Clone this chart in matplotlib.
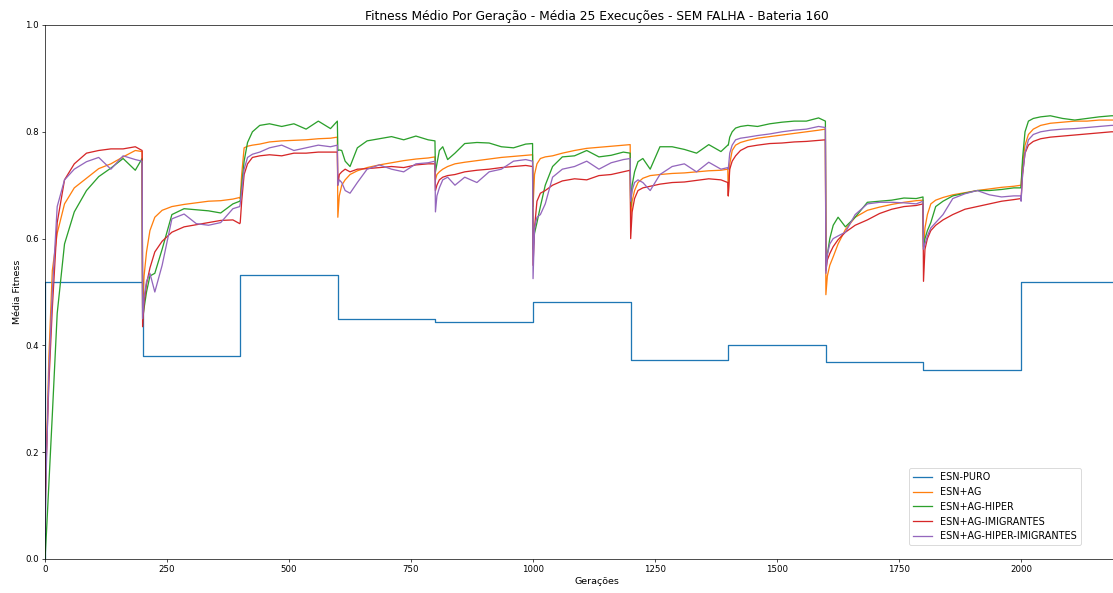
import matplotlib
matplotlib.use("Agg")
import matplotlib.pyplot as plt
import numpy as np

# generations sampled inside each 200-generation block
offsets = [0, 3, 8, 15, 25, 40, 60, 85, 110, 135, 160, 185, 199]
block = 200

labels = ["ESN-PURO", "ESN+AG", "ESN+AG-HIPER", "ESN+AG-IMIGRANTES", "ESN+AG-HIPER-IMIGRANTES"]

# ESN-PURO is flat inside every block
puro_start = 0.0
puro_levels = [0.518, 0.380, 0.532, 0.450, 0.443, 0.481, 0.372, 0.401, 0.369, 0.354, 0.519]

esn_ag = [
    [0.08, 0.20, 0.38, 0.54, 0.61, 0.665, 0.695, 0.713, 0.731, 0.740, 0.753, 0.765, 0.763],
    [0.47, 0.53, 0.575, 0.615, 0.64, 0.653, 0.66, 0.664, 0.667, 0.670, 0.671, 0.674, 0.677],
    [0.675, 0.72, 0.77, 0.773, 0.775, 0.777, 0.781, 0.783, 0.784, 0.785, 0.787, 0.788, 0.79],
    [0.64, 0.68, 0.70, 0.71, 0.72, 0.727, 0.733, 0.738, 0.742, 0.746, 0.749, 0.751, 0.753],
    [0.71, 0.72, 0.725, 0.73, 0.735, 0.74, 0.743, 0.746, 0.749, 0.752, 0.754, 0.756, 0.757],
    [0.66, 0.72, 0.74, 0.75, 0.753, 0.755, 0.76, 0.765, 0.769, 0.771, 0.773, 0.775, 0.776],
    [0.64, 0.67, 0.69, 0.705, 0.713, 0.718, 0.72, 0.722, 0.723, 0.725, 0.727, 0.728, 0.73],
    [0.68, 0.74, 0.765, 0.775, 0.78, 0.784, 0.788, 0.791, 0.794, 0.797, 0.80, 0.803, 0.805],
    [0.495, 0.53, 0.55, 0.566, 0.59, 0.617, 0.64, 0.653, 0.659, 0.664, 0.668, 0.671, 0.672],
    [0.58, 0.62, 0.645, 0.665, 0.672, 0.677, 0.682, 0.686, 0.69, 0.693, 0.696, 0.698, 0.70],
    [0.70, 0.74, 0.775, 0.795, 0.805, 0.812, 0.816, 0.818, 0.82, 0.82, 0.822, 0.822, 0.822],
]

esn_ag_hiper = [
    [0.0, 0.05, 0.14, 0.27, 0.46, 0.59, 0.65, 0.69, 0.716, 0.732, 0.75, 0.728, 0.75],
    [0.45, 0.47, 0.50, 0.53, 0.535, 0.58, 0.645, 0.656, 0.654, 0.652, 0.648, 0.665, 0.67],
    [0.67, 0.70, 0.745, 0.78, 0.80, 0.812, 0.815, 0.81, 0.815, 0.805, 0.82, 0.806, 0.82],
    [0.765, 0.766, 0.765, 0.745, 0.735, 0.77, 0.783, 0.787, 0.791, 0.785, 0.792, 0.785, 0.783],
    [0.725, 0.74, 0.765, 0.772, 0.748, 0.76, 0.778, 0.78, 0.779, 0.772, 0.77, 0.777, 0.778],
    [0.58, 0.61, 0.63, 0.66, 0.70, 0.735, 0.753, 0.755, 0.765, 0.753, 0.756, 0.762, 0.76],
    [0.66, 0.70, 0.725, 0.744, 0.75, 0.73, 0.772, 0.772, 0.767, 0.76, 0.776, 0.763, 0.775],
    [0.775, 0.79, 0.80, 0.807, 0.81, 0.812, 0.81, 0.815, 0.818, 0.82, 0.82, 0.826, 0.82],
    [0.55, 0.57, 0.60, 0.625, 0.64, 0.622, 0.64, 0.668, 0.67, 0.672, 0.676, 0.675, 0.678],
    [0.585, 0.60, 0.615, 0.63, 0.66, 0.67, 0.68, 0.685, 0.69, 0.69, 0.692, 0.695, 0.695],
    [0.70, 0.75, 0.80, 0.82, 0.825, 0.828, 0.83, 0.825, 0.822, 0.825, 0.828, 0.83, 0.83],
]

esn_ag_imig = [
    [0.10, 0.20, 0.33, 0.47, 0.63, 0.71, 0.74, 0.76, 0.765, 0.768, 0.768, 0.772, 0.765],
    [0.435, 0.48, 0.515, 0.545, 0.575, 0.595, 0.612, 0.622, 0.626, 0.63, 0.634, 0.635, 0.628],
    [0.63, 0.67, 0.72, 0.74, 0.752, 0.755, 0.757, 0.755, 0.76, 0.76, 0.762, 0.762, 0.762],
    [0.70, 0.72, 0.725, 0.73, 0.725, 0.73, 0.731, 0.733, 0.735, 0.733, 0.738, 0.74, 0.74],
    [0.69, 0.70, 0.71, 0.715, 0.718, 0.72, 0.725, 0.728, 0.73, 0.733, 0.735, 0.737, 0.735],
    [0.55, 0.62, 0.67, 0.685, 0.69, 0.70, 0.708, 0.712, 0.71, 0.718, 0.72, 0.725, 0.728],
    [0.60, 0.65, 0.675, 0.69, 0.695, 0.698, 0.702, 0.705, 0.706, 0.709, 0.712, 0.71, 0.705],
    [0.68, 0.73, 0.745, 0.755, 0.765, 0.772, 0.775, 0.778, 0.779, 0.781, 0.782, 0.784, 0.785],
    [0.54, 0.56, 0.572, 0.585, 0.598, 0.612, 0.625, 0.635, 0.647, 0.655, 0.66, 0.662, 0.665],
    [0.52, 0.58, 0.60, 0.615, 0.625, 0.635, 0.645, 0.655, 0.66, 0.665, 0.67, 0.673, 0.675],
    [0.675, 0.72, 0.76, 0.775, 0.782, 0.787, 0.79, 0.792, 0.794, 0.796, 0.798, 0.80, 0.80],
]

esn_ag_hiper_imig = [
    [0.05, 0.18, 0.35, 0.50, 0.66, 0.71, 0.73, 0.744, 0.752, 0.73, 0.755, 0.748, 0.745],
    [0.45, 0.49, 0.52, 0.535, 0.50, 0.55, 0.637, 0.646, 0.628, 0.625, 0.63, 0.656, 0.66],
    [0.665, 0.69, 0.73, 0.752, 0.758, 0.762, 0.77, 0.775, 0.765, 0.77, 0.775, 0.772, 0.775],
    [0.70, 0.71, 0.705, 0.69, 0.685, 0.705, 0.73, 0.738, 0.73, 0.725, 0.74, 0.742, 0.745],
    [0.65, 0.68, 0.695, 0.71, 0.715, 0.70, 0.715, 0.705, 0.725, 0.73, 0.745, 0.748, 0.745],
    [0.525, 0.62, 0.64, 0.645, 0.665, 0.715, 0.73, 0.735, 0.745, 0.73, 0.742, 0.748, 0.75],
    [0.67, 0.69, 0.705, 0.71, 0.705, 0.69, 0.72, 0.735, 0.74, 0.725, 0.743, 0.73, 0.733],
    [0.73, 0.76, 0.775, 0.785, 0.788, 0.79, 0.793, 0.796, 0.80, 0.803, 0.805, 0.81, 0.808],
    [0.535, 0.57, 0.59, 0.60, 0.605, 0.612, 0.645, 0.665, 0.668, 0.668, 0.667, 0.665, 0.67],
    [0.58, 0.59, 0.605, 0.62, 0.63, 0.645, 0.675, 0.684, 0.69, 0.682, 0.678, 0.68, 0.68],
    [0.67, 0.72, 0.76, 0.785, 0.795, 0.80, 0.803, 0.805, 0.806, 0.808, 0.81, 0.812, 0.812],
]


def block_series(blocks):
    xs, ys = [], []
    for k, vals in enumerate(blocks):
        xs.extend(k * block + o for o in offsets)
        ys.extend(vals)
    return np.array(xs), np.array(ys)


# original was rendered larger and scaled down, so use a low dpi
dpi = 62
fig = plt.figure(figsize=(1113 / dpi, 593 / dpi), dpi=dpi)
# axes run past the right edge of the picture, as in the original crop
ax = fig.add_axes([45 / 1113, 34 / 593, 1103 / 1113, 534 / 593])

n_blocks = len(puro_levels)
puro_x = [0] + [k * block + (1 if k == 0 else 0) for k in range(n_blocks)] + [n_blocks * block]
puro_y = [puro_start] + puro_levels + [puro_levels[-1]]
ax.plot(puro_x, puro_y, drawstyle="steps-post", label=labels[0])

for lab, data in zip(labels[1:], [esn_ag, esn_ag_hiper, esn_ag_imig, esn_ag_hiper_imig]):
    x, y = block_series(data)
    ax.plot(x, y, label=lab)

ax.set_xlim(0, 2260)
ax.set_ylim(0, 1.0)
ax.set_xticks([0, 250, 500, 750, 1000, 1250, 1500, 1750, 2000])
ax.tick_params(labelsize=10)
ax.set_title("Fitness Médio Por Geração - Média 25 Execuções - SEM FALHA - Bateria 160", fontsize=14.3)
ax.set_xlabel("Gerações", fontsize=11)
ax.set_ylabel("Média Fitness", fontsize=11)
ax.legend(loc="lower right", bbox_to_anchor=(0.939, 0.0257), borderaxespad=0, fontsize=11.2)

fig.savefig("out.png", dpi=dpi)
